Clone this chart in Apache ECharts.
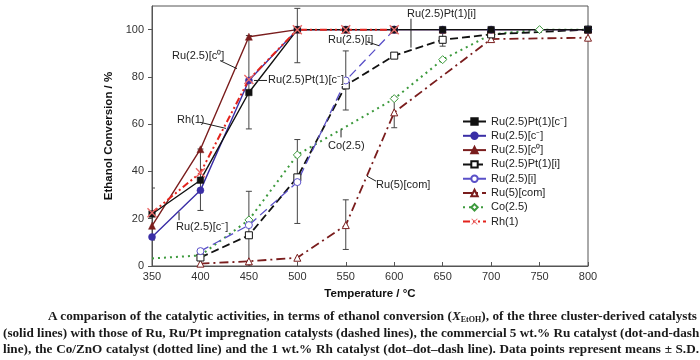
<!DOCTYPE html>
<html><head><meta charset="utf-8">
<script src="https://cdn.jsdelivr.net/npm/echarts@6/dist/echarts.min.js"></script>
<style>
html,body{margin:0;padding:0;background:#fff;}
#chart{position:absolute;left:0;top:0;width:700px;height:360px;}
.cap{position:absolute;font-family:"Liberation Serif","Times New Roman",serif;font-size:13.2px;font-weight:bold;color:#1a1a1a;white-space:nowrap;text-align:justify;text-align-last:justify;line-height:16px;}
.cap sub{font-size:8px;vertical-align:-2px;line-height:0;}
</style></head><body>
<div id="chart"></div>
<div class="cap" style="left:48px;width:649px;top:308px">A comparison of the catalytic activities, in terms of ethanol conversion (<i>X</i><sub>EtOH</sub>), of the three cluster-derived catalysts</div>
<div class="cap" style="left:3px;width:694px;top:325px">(solid lines) with those of Ru, Ru/Pt impregnation catalysts (dashed lines), the commercial 5 wt.% Ru catalyst (dot-and-dash</div>
<div class="cap" style="left:3px;width:696px;top:341px">line), the Co/ZnO catalyst (dotted line) and the 1 wt.% Rh catalyst (dot–dot–dash line). Data points represent means ± S.D.</div>
<script>
const temps = [350, 400, 450, 500, 550, 600, 650, 700, 750, 800];
const ptCm   = [22, 36.3, 73.4, 100, 100, 100, 100, 100, null, 100];   // Ru(2.5)Pt(1)[c-]
const ruCm   = [12.3, 32, 78.5, 100, 100, 100, 100, 100, null, 100];   // Ru(2.5)[c-]
const ruC0   = [17, 49.4, 97, 100, 100, 100, 100, 100, null, 100];     // Ru(2.5)[c0]
const ptI    = [null, 3.6, 13, 37.5, 76.4, 89, 95.7, 98, null, 100];   // Ru(2.5)Pt(1)[i]
const ruI    = [null, 6.3, 17.3, 35.5, 78.5, 100, null, null, null, null]; // Ru(2.5)[i]
const ruCom  = [null, 1, 2, 3.5, 17.3, 65, null, 96, null, 96.6];      // Ru(5)[com]
const co     = [3.2, 4.5, 19.5, 47, null, 70.8, 87.3, 98, 100, 100];   // Co(2.5)
const rh     = [22.5, 39.5, 78.9, 100, 100, 100, null, null, null, null]; // Rh(1)

const errT  = [350, 400, 450, 500, 450, 500, 550, 550, 600, 650];
const errLo = [11, 23.5, 58, 86, 0, 18, 66, 7, 58.5, 93];
const errHi = [33, 49.5, 97.5, 109, 31.6, 53.5, 91, 28, 71.5, 98.5];

const names = ['Ru(2.5)Pt(1)[c\u207B]', 'Ru(2.5)[c\u207B]', 'Ru(2.5)[c\u2070]', 'Ru(2.5)Pt(1)[i]', 'Ru(2.5)[i]', 'Ru(5)[com]', 'Co(2.5)', 'Rh(1)'];
const yTicks = [0, 20, 40, 60, 80, 100];

// annotations: text, text anchor (data), leader from, leader to (data)
const annText = ['Ru(2.5)[c\u2070]', 'Ru(2.5)Pt(1)[c\u207B]', 'Rh(1)', 'Ru(2.5)[c\u207B]', 'Ru(2.5)[i]', 'Ru(2.5)Pt(1)[i]', 'Co(2.5)', 'Ru(5)[com]'];
const annPos  = [[370.6, 89.0], [469.7, 78.5], [375.8, 61.6], [374.8, 16.5], [531.6, 95.8], [613.2, 106.8], [531.6, 50.6], [581.2, 34.2]];
const annFrom = [[420.2, 86.9], [455.3, 78.5], [399.5, 60.8], [377.9, 22.8], [571.9, 94.9], [617.3, 104.6], [545.1, 57.8], [571.9, 38.0]];
const annTo   = [[437.7, 83.5], [468.7, 78.5], [426.4, 58.2], [377.9, 19.4], [584.3, 93.2], [617.3, 92.4], [545.1, 54.4], [581.2, 35.9]];

function pairs(vals) {
  const out = [];
  vals.forEach((v, i) => { if (v !== null) out.push([temps[i], v]); });
  return out;
}
const xShape = 'path://M1,0 L5,4 L9,0 L10,1 L6,5 L10,9 L9,10 L5,6 L1,10 L0,9 L4,5 L0,1 Z';

const BLK = '#111111', BLUE = '#3a2ea6', BLUE2 = '#5a50c8', DRED = '#7a1d1d', GRN = '#3d9a3d', RED = '#e3231c';

function mk(name, vals, color, lineType, width, symbol, hollow, size, extra) {
  return Object.assign({
    name: name, type: 'line', data: pairs(vals), symbol: symbol, symbolSize: size,
    lineStyle: { color: color, width: width, type: lineType },
    itemStyle: hollow ? { color: '#ffffff', borderColor: color, borderWidth: 1 } : { color: color, borderColor: color, borderWidth: 0.5 },
    emphasis: { disabled: true }, z: 3
  }, extra || {});
}

const coData = pairs(co);
coData[0] = { value: coData[0], symbol: 'none' };

const chart = echarts.init(document.getElementById('chart'));
const option = {
  animation: false,
  textStyle: { fontFamily: 'Liberation Sans, Arial, sans-serif' },
  grid: { left: 152, right: 112, top: 6, bottom: 94, show: true, borderColor: '#555', borderWidth: 1, backgroundColor: 'transparent' },
  legend: {
    data: names, orient: 'vertical', left: 457, top: 111, itemWidth: 23, itemHeight: 8, itemGap: 3.3,
    textStyle: { fontSize: 11, color: '#222' }, selectedMode: false
  },
  xAxis: {
    type: 'value', min: 350, max: 800, interval: 50,
    name: 'Temperature / \u00B0C', nameLocation: 'middle', nameGap: 22,
    nameTextStyle: { fontWeight: 'bold', fontSize: 11.5, color: '#111' },
    axisLine: { lineStyle: { color: '#555' } },
    axisTick: { inside: true, length: 4, lineStyle: { color: '#555' } },
    axisLabel: { fontSize: 11, color: '#333', margin: 5 },
    splitLine: { show: false }
  },
  yAxis: {
    type: 'value', min: 0, max: 110, interval: 20,
    name: 'Ethanol Conversion / %', nameLocation: 'middle', nameGap: 27,
    nameTextStyle: { fontWeight: 'bold', fontSize: 11.5, color: '#111' },
    axisLine: { show: true, lineStyle: { color: '#555' } },
    axisTick: { show: true, length: 4, lineStyle: { color: '#555' } },
    axisLabel: { fontSize: 11, color: '#333', margin: 8, showMaxLabel: false,
      formatter: v => (yTicks.indexOf(v) >= 0 ? String(v) : '') },
    splitLine: { show: false }
  },
  series: [
    {
      type: 'custom', name: 'err', silent: true, z: 1, clip: true,
      data: errT.map((t, i) => [t, errLo[i], errHi[i]]),
      encode: { x: 0, y: [1, 2] },
      renderItem: function (params, api) {
        const x = api.value(0), lo = api.value(1), hi = api.value(2);
        const a = api.coord([x, lo]), b = api.coord([x, hi]);
        const w = 3, st = { stroke: '#444', lineWidth: 1 };
        return { type: 'group', children: [
          { type: 'line', shape: { x1: a[0], y1: a[1], x2: b[0], y2: b[1] }, style: st },
          { type: 'line', shape: { x1: a[0] - w, y1: a[1], x2: a[0] + w, y2: a[1] }, style: st },
          { type: 'line', shape: { x1: b[0] - w, y1: b[1], x2: b[0] + w, y2: b[1] }, style: st }
        ] };
      }
    },
    mk(names[6], co, GRN, [2, 4], 2, 'diamond', true, 8, { data: coData }),
    mk(names[5], ruCom, DRED, [9, 4, 2, 4], 1.8, 'triangle', true, 7),
    mk(names[3], ptI, BLK, [8, 4], 1.8, 'rect', true, 7),
    mk(names[4], ruI, BLUE2, [9, 5], 1.3, 'circle', true, 7),
    mk(names[2], ruC0, DRED, 'solid', 1.4, 'triangle', false, 7),
    mk(names[1], ruCm, BLUE, 'solid', 1.4, 'circle', false, 7),
    mk(names[0], ptCm, BLK, 'solid', 1.4, 'rect', false, 6.5),
    mk(names[7], rh, RED, [7, 3, 2, 3, 2, 3], 2, xShape, false, 10,
      { itemStyle: { color: '#ea6a6a', borderWidth: 0 } })
  ]
};
chart.setOption(option);

const g = [];
annText.forEach((t, i) => {
  const p = chart.convertToPixel({ gridIndex: 0 }, annPos[i]);
  const f = chart.convertToPixel({ gridIndex: 0 }, annFrom[i]);
  const e = chart.convertToPixel({ gridIndex: 0 }, annTo[i]);
  g.push({ type: 'text', x: p[0], y: p[1], z: 10,
    style: { text: t, fontSize: 11, fill: '#222', fontFamily: 'Liberation Sans, Arial, sans-serif', verticalAlign: 'middle', align: 'left', backgroundColor: '#fff' } });
  g.push({ type: 'line', z: 10, shape: { x1: f[0], y1: f[1], x2: e[0], y2: e[1] }, style: { stroke: '#222', lineWidth: 1 } });
});
chart.setOption({ graphic: g });
</script>
</body></html>
